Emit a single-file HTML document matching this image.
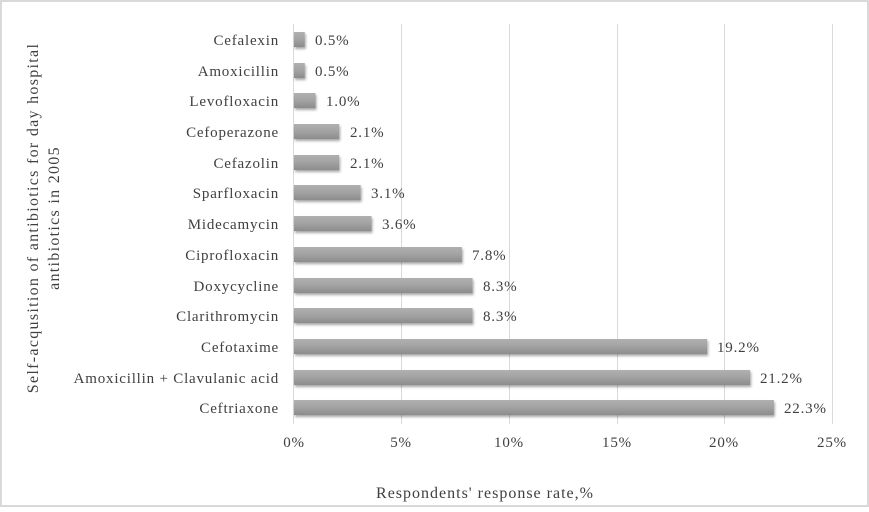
<!DOCTYPE html>
<html><head><style>
body{margin:0;background:#fff}
svg text{font-family:"Liberation Serif",serif;fill:#404040;font-size:15px;letter-spacing:0.8px}
</style></head><body>
<svg width="869" height="507" xmlns="http://www.w3.org/2000/svg">
<defs>
<linearGradient id="g" x1="0" y1="0" x2="0" y2="1">
<stop offset="0" stop-color="#b0b0b0"/><stop offset="0.5" stop-color="#a2a2a2"/><stop offset="1" stop-color="#8c8c8c"/>
</linearGradient>
<filter id="s" x="-5%" y="-30%" width="110%" height="180%"><feDropShadow dx="1" dy="2" stdDeviation="1.2" flood-color="#000" flood-opacity="0.35"/></filter>
</defs>
<rect x="1" y="1" width="867" height="505" fill="#fff" stroke="#d9d9d9" stroke-width="2"/>
<g stroke="#d9d9d9" stroke-width="1">
<line x1="401.5" y1="24" x2="401.5" y2="424"/>
<line x1="509.5" y1="24" x2="509.5" y2="424"/>
<line x1="617.5" y1="24" x2="617.5" y2="424"/>
<line x1="724.5" y1="24" x2="724.5" y2="424"/>
<line x1="832.5" y1="24" x2="832.5" y2="424"/>
<line x1="293.5" y1="24" x2="293.5" y2="424"/>
</g>
<g filter="url(#s)" fill="url(#g)">
<rect x="294" y="32" width="10.8" height="15"/>
<rect x="294" y="63" width="10.8" height="15"/>
<rect x="294" y="93" width="21.5" height="15"/>
<rect x="294" y="124" width="45.2" height="15"/>
<rect x="294" y="155" width="45.2" height="15"/>
<rect x="294" y="185" width="66.7" height="15"/>
<rect x="294" y="216" width="77.5" height="15"/>
<rect x="294" y="247" width="167.9" height="15"/>
<rect x="294" y="278" width="178.6" height="15"/>
<rect x="294" y="308" width="178.6" height="15"/>
<rect x="294" y="339" width="413.2" height="15"/>
<rect x="294" y="370" width="456.2" height="15"/>
<rect x="294" y="400" width="479.9" height="15"/>
</g>
<g text-anchor="end">
<text x="279" y="45">Cefalexin</text>
<text x="279" y="76">Amoxicillin</text>
<text x="279" y="106">Levofloxacin</text>
<text x="279" y="137">Cefoperazone</text>
<text x="279" y="168">Cefazolin</text>
<text x="279" y="198">Sparfloxacin</text>
<text x="279" y="229">Midecamycin</text>
<text x="279" y="260">Ciprofloxacin</text>
<text x="279" y="291">Doxycycline</text>
<text x="279" y="321">Clarithromycin</text>
<text x="279" y="352">Cefotaxime</text>
<text x="279" y="383">Amoxicillin + Clavulanic acid</text>
<text x="279" y="413">Ceftriaxone</text>
</g>
<g>
<text x="315" y="45">0.5%</text>
<text x="315" y="76">0.5%</text>
<text x="326" y="106">1.0%</text>
<text x="350" y="137">2.1%</text>
<text x="350" y="168">2.1%</text>
<text x="371" y="198">3.1%</text>
<text x="382" y="229">3.6%</text>
<text x="472" y="260">7.8%</text>
<text x="483" y="291">8.3%</text>
<text x="483" y="321">8.3%</text>
<text x="717" y="352">19.2%</text>
<text x="760" y="383">21.2%</text>
<text x="784" y="413">22.3%</text>
</g>
<g text-anchor="middle">
<text x="294" y="447">0%</text>
<text x="401" y="447">5%</text>
<text x="509" y="447">10%</text>
<text x="617" y="447">15%</text>
<text x="724" y="447">20%</text>
<text x="832" y="447">25%</text>
<text x="485" y="498" style="font-size:16px;letter-spacing:1px">Respondents' response rate,%</text>
</g>
<g transform="translate(38,218) rotate(-90)" text-anchor="middle" style="font-size:16px;letter-spacing:1.3px">
<text x="0" y="0" style="font-size:16px;letter-spacing:1.3px">Self-acqusition of antibiotics  for day hospital</text>
<text x="0" y="21" style="font-size:16px;letter-spacing:1.3px">antibiotics in 2005</text>
</g>
</svg>
</body></html>
